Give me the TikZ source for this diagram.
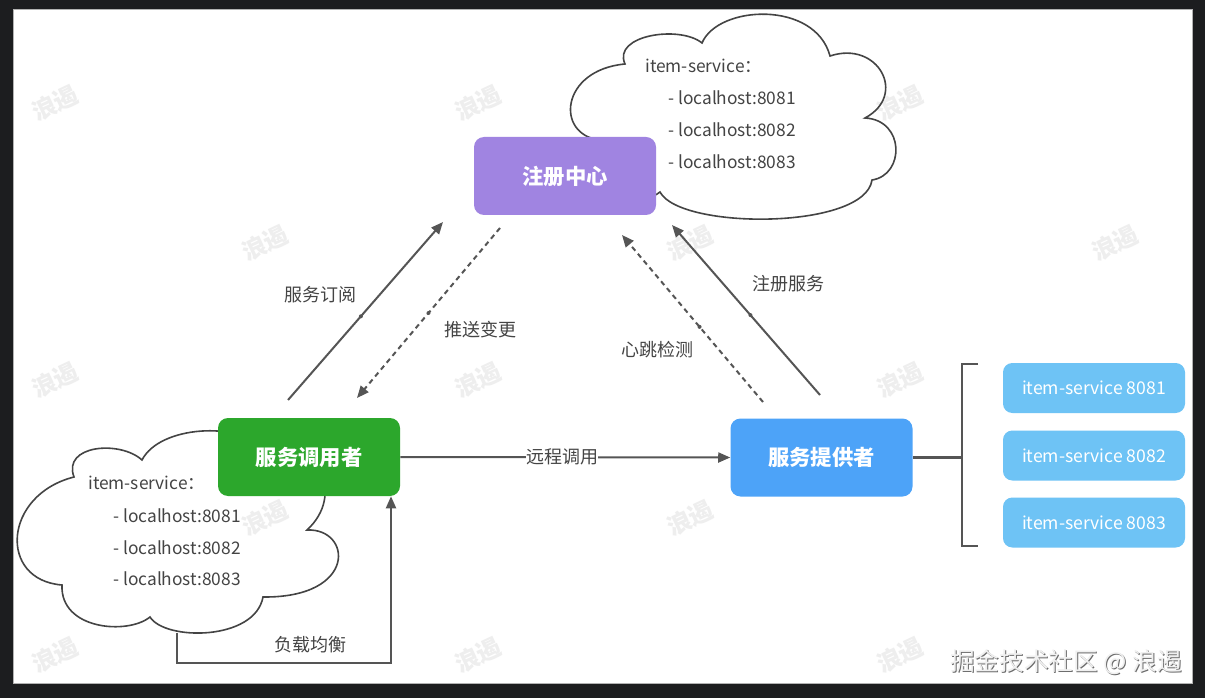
\documentclass[tikz,border=0pt]{standalone}
\usepackage{fontspec}
\setmainfont{Noto Sans CJK SC}
\usetikzlibrary{arrows.meta}
\definecolor{framec}{HTML}{1C1D1F}
\definecolor{regc}{HTML}{A084E1}
\definecolor{callc}{HTML}{2CA72C}
\definecolor{provc}{HTML}{4DA3F8}
\definecolor{instc}{HTML}{6EC3F5}
\definecolor{linec}{HTML}{555555}
\definecolor{txtc}{HTML}{444444}
\definecolor{wmc}{HTML}{EEEEEE}
\tikzset{
 bigbox/.style={rounded corners=7.5pt, minimum width=136.5pt, minimum height=58.5pt, text=white, font=\fontsize{16}{18}\selectfont\bfseries, inner sep=0pt},
 instbox/.style={rounded corners=7pt, fill=instc, minimum width=136.5pt, minimum height=37.5pt, text=white, font=\fontsize{13.2}{15}\selectfont, inner sep=0pt},
 conn/.style={draw=linec, line width=1.5pt, -{Triangle[length=9pt,width=7.5pt]}},
 dconn/.style={conn, dash pattern=on 3.75pt off 3pt},
 elabel/.style={text=txtc, font=\fontsize{13.5}{15}\selectfont, inner sep=1pt},
 cltext/.style={text=txtc, font=\fontsize{13}{15}\selectfont, anchor=west, inner sep=0pt},
 cloudline/.style={draw=txtc, line width=1.2pt},
 middot/.style={circle, fill=linec, inner sep=0pt, minimum size=3pt},
 wm/.style={text=wmc, font=\fontsize{18}{20}\selectfont\bfseries, rotate=25},
}
\begin{document}
\begin{tikzpicture}[x=0.75pt,y=-0.75pt]
% frame
\fill[framec] (0,0) rectangle (1205,698);
\fill[white] (13,9) rectangle (1192,683);
\draw[gray!60, line width=0.5pt] (13,9) rectangle (1192,683);
\useasboundingbox (0,0) rectangle (1205,698);
% watermarks
\foreach \i/\x/\y in {1/55/103,2/478/103,3/900/103,4/265/243,5/690/243,6/1115/243,7/55/380,8/478/380,9/900/380,10/265/518,11/690/518,12/55/655,13/478/655,14/900/655}
  \node[wm] (wm\i) at (\x,\y) {浪遏};
% top cloud
\draw[cloudline] (625,64) .. controls (612,35) and (680,25) .. (702,43)
  .. controls (718,5) and (815,0) .. (830,56)
  .. controls (878,40) and (908,95) .. (865,118)
  .. controls (905,120) and (905,175) .. (872,180)
  .. controls (865,230) and (680,230) .. (660,192)
  .. controls (630,215) and (590,170) .. (600,140)
  .. controls (555,135) and (560,70) .. cycle;
% left cloud
\draw[cloudline] (74,477) .. controls (62,445) and (120,440) .. (142,460)
  .. controls (160,425) and (240,422) .. (262,448)
  .. controls (320,440) and (345,495) .. (307,530)
  .. controls (352,528) and (358,598) .. (263,597)
  .. controls (255,641) and (165,641) .. (150,617)
  .. controls (128,635) and (60,630) .. (62,585)
  .. controls (-2,580) and (3,495) .. cycle;
% cloud texts
\node[cltext] (t0) at (645,66) {item-service：};
\node[cltext] (t1) at (668,98) {- localhost:8081};
\node[cltext] (t2) at (668,130) {- localhost:8082};
\node[cltext] (t3) at (668,162) {- localhost:8083};
\node[cltext] (l0) at (88,483) {item-service：};
\node[cltext] (l1) at (113,516) {- localhost:8081};
\node[cltext] (l2) at (113,548) {- localhost:8082};
\node[cltext] (l3) at (113,579) {- localhost:8083};
% main boxes
\node[bigbox, fill=regc] (reg) at (565,176) {注册中心};
\node[bigbox, fill=callc] (caller) at (309,457) {服务调用者};
\node[bigbox, fill=provc] (prov) at (821.5,457.5) {服务提供者};
% instances
\node[instbox] (s1) at (1094,388) {item-service 8081};
\node[instbox] (s2) at (1094,455.5) {item-service 8082};
\node[instbox] (s3) at (1094,522.5) {item-service 8083};
% bracket
\coordinate (bt) at (962,364);
\coordinate (bb) at (962,546);
\coordinate (bm) at (962,457.5);
\draw[linec, line width=2pt] ([xshift=12pt]bt) -- (bt) -- (bb) -- ([xshift=12pt]bb);
\draw[linec, line width=1.8pt] (prov.east) -- (bm);
% arrow end points
\coordinate (subA) at (288,400);
\coordinate (subB) at (443,222);
\coordinate (pushA) at (500,228);
\coordinate (pushB) at (357,398);
\coordinate (hbA) at (763,402);
\coordinate (hbB) at (622,235);
\coordinate (regA) at (820,395);
\coordinate (regB) at (672,225);
\draw[conn] (subA) -- node[middot, pos=0.47] (d1) {} (subB);
\draw[dconn] (pushA) -- node[middot, pos=0.5] (d2) {} (pushB);
\draw[dconn] (hbA) -- node[middot, pos=0.45] (d3) {} (hbB);
\draw[conn] (regA) -- node[middot, pos=0.47] (d4) {} (regB);
\draw[conn] (caller.east) -- (prov.west);
% load balance
\coordinate (lbS) at (177,633);
\coordinate (lbC) at (391,663);
\draw[conn] (lbS) |- (lbC) -- (caller.south -| lbC);
% labels
\node[elabel] (e1) at (320,295) {服务订阅};
\node[elabel] (e2) at (480,330) {推送变更};
\node[elabel] (e3) at (657,350) {心跳检测};
\node[elabel] (e4) at (788,284) {注册服务};
\node[elabel, fill=white, inner sep=0pt] (e5) at (562,457) {远程调用};
\node[elabel] (e6) at (310,645) {负载均衡};
% footer
\node[anchor=west, text=gray!85!black, font=\fontsize{18.5}{20}\selectfont, inner sep=0pt] (fs) at (951,663) {掘金技术社区 @ 浪遏};
\node[anchor=west, text=gray!12, font=\fontsize{18.5}{20}\selectfont, inner sep=0pt] (ft) at (950,662) {掘金技术社区 @ 浪遏};
\end{tikzpicture}
\end{document}
